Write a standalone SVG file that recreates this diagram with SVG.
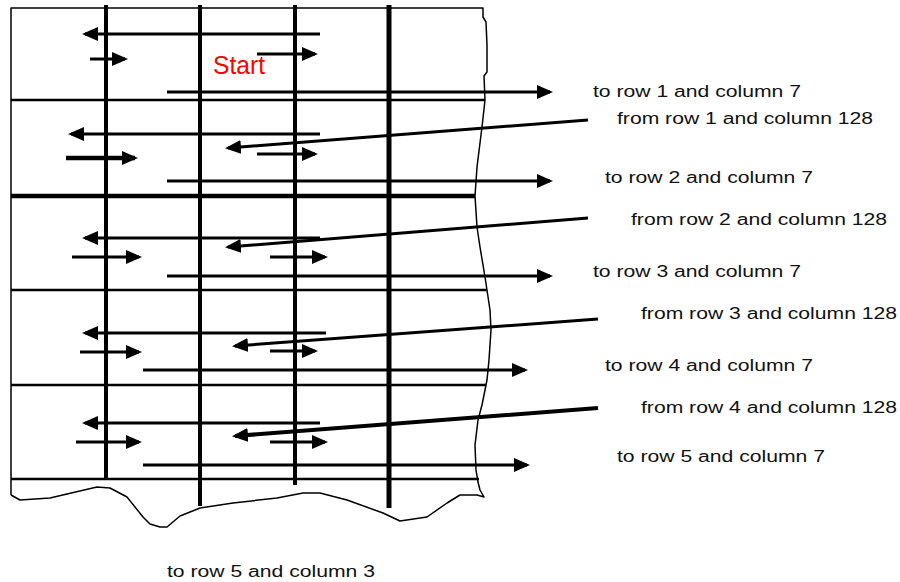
<svg xmlns="http://www.w3.org/2000/svg" width="900" height="582" viewBox="0 0 900 582">
<style>
.grid{stroke:#000;stroke-width:2.5;fill:none}
.gthick{stroke:#000;stroke-width:4.5;fill:none}
.vl{stroke:#000;stroke-width:4}
.edge{stroke:#000;stroke-width:1.5;fill:none;stroke-linejoin:round}
.arr{stroke:#000;stroke-width:3;fill:none;marker-end:url(#ah)}
.arrb{stroke:#000;stroke-width:4.5;fill:none;marker-end:url(#ah)}
.lbl{font-family:"Liberation Sans",Arial,sans-serif;font-size:16px;fill:#111}
.start{font-family:"Liberation Sans",Arial,sans-serif;font-size:25px;fill:#ff0000}
</style>
<defs>
<marker id="ah" viewBox="0 0 16 14" refX="13" refY="7" markerWidth="16" markerHeight="14" markerUnits="userSpaceOnUse" orient="auto">
<path d="M0,0 L16,7 L0,14 z" fill="#000"/>
</marker>
</defs>
<rect width="900" height="582" fill="#fff"/>
<g id="grid">
<path class="edge" d="M11,495 L11,8 L483,8 L483,17 L486,22 L487,45 L487,72 L484,76 L485,100 L482,127 L477,167 L475,196 L477,227 L480,247 L485,277 L490,310 L491,330 L489,360 L487,380 L482,405 L478,420 L475,445 L476,470 L478,482 L480,490 L484,497 L477,495 L460,495 L447,503 L427,517 L400,521 L383,513 L347,500 L320,493 L303,493 L277,498 L233,503 L200,508 L180,516 L167,527 L160,527 L150,524 L143,517 L127,497 L110,488 L97,487 L67,494 L50,498 L20,500 L11,495"/>
<line class="grid" x1="11" y1="100" x2="485" y2="100"/>
<line class="gthick" x1="11" y1="196" x2="475" y2="196"/>
<line class="grid" x1="11" y1="290" x2="487" y2="290"/>
<line class="grid" x1="11" y1="385" x2="486" y2="385"/>
<line class="grid" x1="11" y1="479" x2="479" y2="479"/>
<line class="vl" x1="106" y1="5" x2="106" y2="479"/>
<line class="vl" x1="200" y1="5" x2="200" y2="506"/>
<line class="vl" x1="295" y1="5" x2="295" y2="485"/>
<line class="vl" x1="389" y1="5" x2="389" y2="508" style="stroke-width:5"/>
</g>
<g id="connectors">
<line class="arr" x1="320" y1="34" x2="85" y2="34"/>
<line class="arr" x1="90" y1="59" x2="125" y2="59"/>
<line class="arr" x1="257" y1="54" x2="315" y2="54"/>
<line class="arr" x1="167" y1="92" x2="550" y2="92"/>

<line class="arr" x1="320" y1="134" x2="71" y2="134"/>
<line class="arrb" x1="66" y1="158" x2="135" y2="158"/>
<line class="arr" x1="588" y1="120" x2="228" y2="148"/>
<line class="arr" x1="257" y1="154" x2="315" y2="154"/>
<line class="arr" x1="167" y1="181" x2="550" y2="181"/>

<line class="arr" x1="320" y1="238" x2="85" y2="238"/>
<line class="arr" x1="72" y1="257" x2="139" y2="257"/>
<line class="arr" x1="588" y1="218" x2="228" y2="247"/>
<line class="arr" x1="270" y1="257" x2="325" y2="257"/>
<line class="arr" x1="167" y1="276" x2="550" y2="276"/>

<line class="arr" x1="326" y1="333" x2="85" y2="333"/>
<line class="arr" x1="80" y1="352" x2="139" y2="352"/>
<line class="arr" x1="598" y1="319" x2="235" y2="346"/>
<line class="arr" x1="270" y1="351" x2="315" y2="351"/>
<line class="arr" x1="143" y1="370" x2="525" y2="370"/>

<line class="arr" x1="320" y1="423" x2="85" y2="423"/>
<line class="arr" x1="76" y1="442" x2="139" y2="442"/>
<line class="arr" x1="598" y1="408" x2="235" y2="436" style="stroke-width:4"/>
<line class="arr" x1="270" y1="442" x2="325" y2="442"/>
<line class="arr" x1="143" y1="465" x2="527" y2="465"/>
</g>
<g id="labels">
<text class="start" x="213" y="74" textLength="52" lengthAdjust="spacingAndGlyphs">Start</text>
<text class="lbl" x="593" y="97" textLength="208" lengthAdjust="spacingAndGlyphs">to row 1 and column 7</text>
<text class="lbl" x="617" y="124" textLength="256" lengthAdjust="spacingAndGlyphs">from row 1 and column 128</text>
<text class="lbl" x="605" y="183" textLength="208" lengthAdjust="spacingAndGlyphs">to row 2 and column 7</text>
<text class="lbl" x="631" y="225" textLength="256" lengthAdjust="spacingAndGlyphs">from row 2 and column 128</text>
<text class="lbl" x="593" y="277" textLength="208" lengthAdjust="spacingAndGlyphs">to row 3 and column 7</text>
<text class="lbl" x="641" y="319" textLength="256" lengthAdjust="spacingAndGlyphs">from row 3 and column 128</text>
<text class="lbl" x="605" y="371" textLength="208" lengthAdjust="spacingAndGlyphs">to row 4 and column 7</text>
<text class="lbl" x="641" y="413" textLength="256" lengthAdjust="spacingAndGlyphs">from row 4 and column 128</text>
<text class="lbl" x="617" y="462" textLength="208" lengthAdjust="spacingAndGlyphs">to row 5 and column 7</text>
<text class="lbl" x="167" y="577" textLength="208" lengthAdjust="spacingAndGlyphs">to row 5 and column 3</text>
</g>
</svg>
